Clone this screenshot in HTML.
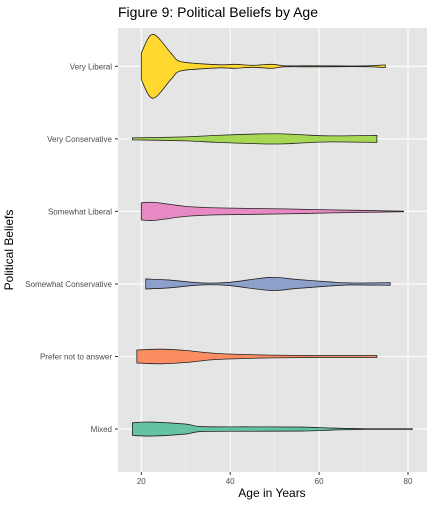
<!DOCTYPE html>
<html><head><meta charset="utf-8"><style>
body{margin:0;background:#fff;font-family:"Liberation Sans",sans-serif}
svg text{font-family:"Liberation Sans",sans-serif}
</style></head><body>
<svg id="c" width="432" height="504">
<text x="118" y="17" font-size="14" fill="#000">Figure 9: Political Beliefs by Age</text>
<rect x="118" y="28" width="309" height="444" fill="#e5e5e5"/>
<g id="grid"></g><g id="marks"></g><g id="axes"></g>
<text x="272" y="497" font-size="12" text-anchor="middle">Age in Years</text>
<text transform="translate(13,250) rotate(-90)" font-size="12" text-anchor="middle">Political Beliefs</text>
</svg>
<script>
const categories=["Very Liberal","Very Conservative","Somewhat Liberal","Somewhat Conservative","Prefer not to answer","Mixed"];
const colors=["#FFD92F","#A6D854","#E78AC3","#8DA0CB","#FC8D62","#66C2A5"];
const xTicks=[20,40,60,80];
const agesVL=[20,22.6,26.7,28.6,33.5,38,41,45,49.5,52,56,60,68,72,74.4,74.9];
const densVL=[13.3,32,13,5,2.5,1.5,2,1,2,0.5,0.5,0.5,0.3,0.6,1.3,1.3];
const agesVC=[18,30,37,47,52,56.5,62.5,73];
const densVC=[1,2,3.5,5,5,4,3,3.5];
const agesSL=[20,23,30,37,52,63,79];
const densSL=[8.5,9,5,3.5,2.5,1.5,0.3];
const agesSC=[21,26,33.5,39.5,49,55,62.5,67,76];
const densSC=[5,4,1,1.5,6.5,4.5,2,1,1.3];
const agesPN=[19,24.5,30,37,48,60,73];
const densPN=[6.5,7.3,6,3,1.5,1,1];
const agesMX=[18,22.3,30,33.5,45,56,63,70.5,81];
const densMX=[6.3,7,5,2.5,2.2,2,1,0.3,0.3];
const ages=[agesVL,agesVC,agesSL,agesSC,agesPN,agesMX];
const dens=[densVL,densVC,densSL,densSC,densPN,densMX];
const NS="http://www.w3.org/2000/svg";
const x=a=>141.3+(a-20)*4.445;
const y=i=>66.3+i*72.55;
const w=d=>d;
function mk(t,at,p){const e=document.createElementNS(NS,t);for(const k in at)e.setAttribute(k,at[k]);p.appendChild(e);return e;}
const grid=document.getElementById('grid'),marks=document.getElementById('marks'),axes=document.getElementById('axes');
[30,50,70].forEach(a=>{const l=mk('line',{x1:x(a),x2:x(a),y1:28,y2:472,stroke:'#f2f2f2','stroke-width':0.6},grid);

});
xTicks.forEach(a=>{const l=mk('line',{x1:x(a),x2:x(a),y1:28,y2:472,stroke:'#fff','stroke-width':1.1},grid);


const t=mk('line',{x1:x(a),x2:x(a),y1:472,y2:475,stroke:'#333'},axes);


const tx=mk('text',{x:x(a),y:484,'font-size':8,'text-anchor':'middle',fill:'#4d4d4d'},axes);tx.textContent=a;

});
function smooth(pts){let d='';for(let i=0;i<pts.length-1;i++){const p0=pts[Math.max(i-1,0)],p1=pts[i],p2=pts[i+1],p3=pts[Math.min(i+2,pts.length-1)];
const c1=[p1[0]+(p2[0]-p0[0])/6,p1[1]+(p2[1]-p0[1])/6],c2=[p2[0]-(p3[0]-p1[0])/6,p2[1]-(p3[1]-p1[1])/6];
d+=` C${c1[0]},${c1[1]} ${c2[0]},${c2[1]} ${p2[0]},${p2[1]}`;}return d;}
categories.forEach((c,i)=>{
const l=mk('line',{x1:118,x2:427,y1:y(i),y2:y(i),stroke:'#fff','stroke-width':1.1},grid);


const t=mk('line',{x1:115,x2:118,y1:y(i),y2:y(i),stroke:'#333'},axes);


const tx=mk('text',{x:112,y:y(i)+3,'font-size':8,'text-anchor':'end',fill:'#4d4d4d'},axes);tx.textContent=c;


const top=ages[i].map((a,j)=>[x(a),y(i)-w(dens[i][j])]);
const bot=ages[i].map((a,j)=>[x(a),y(i)+w(dens[i][j])]).reverse();
let d=`M${top[0][0]},${top[0][1]}`+smooth(top)+` L${bot[0][0]},${bot[0][1]}`+smooth(bot)+' Z';
const p=mk('path',{d:d,fill:colors[i],stroke:'#222','stroke-width':0.8},marks);


});
</script>
</body></html>
